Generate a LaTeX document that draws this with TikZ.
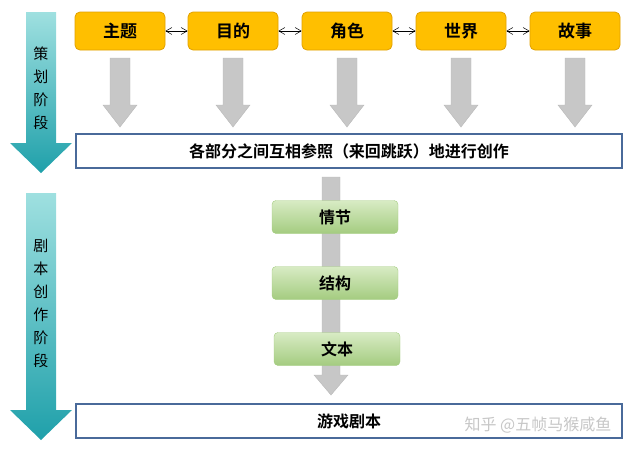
\documentclass[tikz,border=0pt]{standalone}
\usepackage{fontspec}
\newfontfamily\cjk{Noto Sans CJK SC}
\newfontfamily\cjkb{Noto Sans CJK SC Bold}
\usetikzlibrary{arrows.meta}
\definecolor{teal1}{HTML}{9FE0E0}
\definecolor{teal2}{HTML}{1FA0AA}
\definecolor{gold}{HTML}{FFBF00}
\definecolor{goldb}{HTML}{E0A000}
\definecolor{grn1}{HTML}{D8EBC4}
\definecolor{grn2}{HTML}{A4CC80}
\definecolor{bbox}{HTML}{4A6A9A}
\tikzset{
 x=1pt,y=-1pt,
 topbox/.style={draw=goldb,fill=gold,rounded corners=5pt,minimum width=90pt,minimum height=38pt,font=\cjkb\fontsize{17}{17}\selectfont,line width=0.8pt},
 grnbox/.style={draw=grn2,top color=grn1,bottom color=grn2,rounded corners=4pt,minimum width=126pt,minimum height=33pt,font=\cjkb\fontsize{16}{16}\selectfont},
 widebox/.style={draw=bbox,fill=white,line width=1.2pt,minimum width=546pt,minimum height=34pt,font=\cjkb\fontsize{16}{16}\selectfont},
 dbl/.style={{Straight Barb[length=6pt,width=7pt]}-{Straight Barb[length=6pt,width=7pt]},line width=0.5pt},
 grayarr/.style={fill=black!22,draw=black!28},
 side/.style={font=\cjk\fontsize{15}{23}\selectfont,align=center}
}
\begin{document}
\begin{tikzpicture}
\useasboundingbox (0,0) rectangle (638,451);
% left arrows
\shade[top color=teal1,bottom color=teal2] (26,12) -- (56,12) -- (56,143) -- (72,143) -- (41,173) -- (10,143) -- (26,143) -- cycle;
\shade[top color=teal1,bottom color=teal2] (26,193) -- (56,193) -- (56,410) -- (72,410) -- (41,440) -- (10,410) -- (26,410) -- cycle;
\node[side] (s1) at (41,88) {策\\划\\阶\\段};
\node[side] (s2) at (41,303) {剧\\本\\创\\作\\阶\\段};
% gray arrows top
\foreach \cx in {120,233,347,461,575}{
 \fill[grayarr] (\cx-10,58) -- (\cx+10,58) -- (\cx+10,105) -- (\cx+17,105) -- (\cx,127) -- (\cx-17,105) -- (\cx-10,105) -- cycle;
}
% central gray arrow
\fill[grayarr] (322,177) -- (340,177) -- (340,375) -- (348,375) -- (331,395) -- (314,375) -- (322,375) -- cycle;
% top boxes
\node[topbox] (a) at (120,31) {主题};
\node[topbox] (b) at (233,31) {目的};
\node[topbox] (c) at (347,31) {角色};
\node[topbox] (d) at (461,31) {世界};
\node[topbox] (e) at (575,31) {故事};
\draw[dbl] (a) -- (b);
\draw[dbl] (b) -- (c);
\draw[dbl] (c) -- (d);
\draw[dbl] (d) -- (e);
\node[widebox] (m) at (349,151) {各部分之间互相参照（来回跳跃）地进行创作};
\node[grnbox] (g1) at (335,217) {情节};
\node[grnbox] (g2) at (335,283) {结构};
\node[grnbox] (g3) at (337,349) {文本};
\node[widebox] (f) at (349,421) {游戏剧本};
\node[font=\cjk\fontsize{16}{16}\selectfont,text=black!22] (w) at (538,425) {知乎 @五帧马猴咸鱼};
\end{tikzpicture}
\end{document}
